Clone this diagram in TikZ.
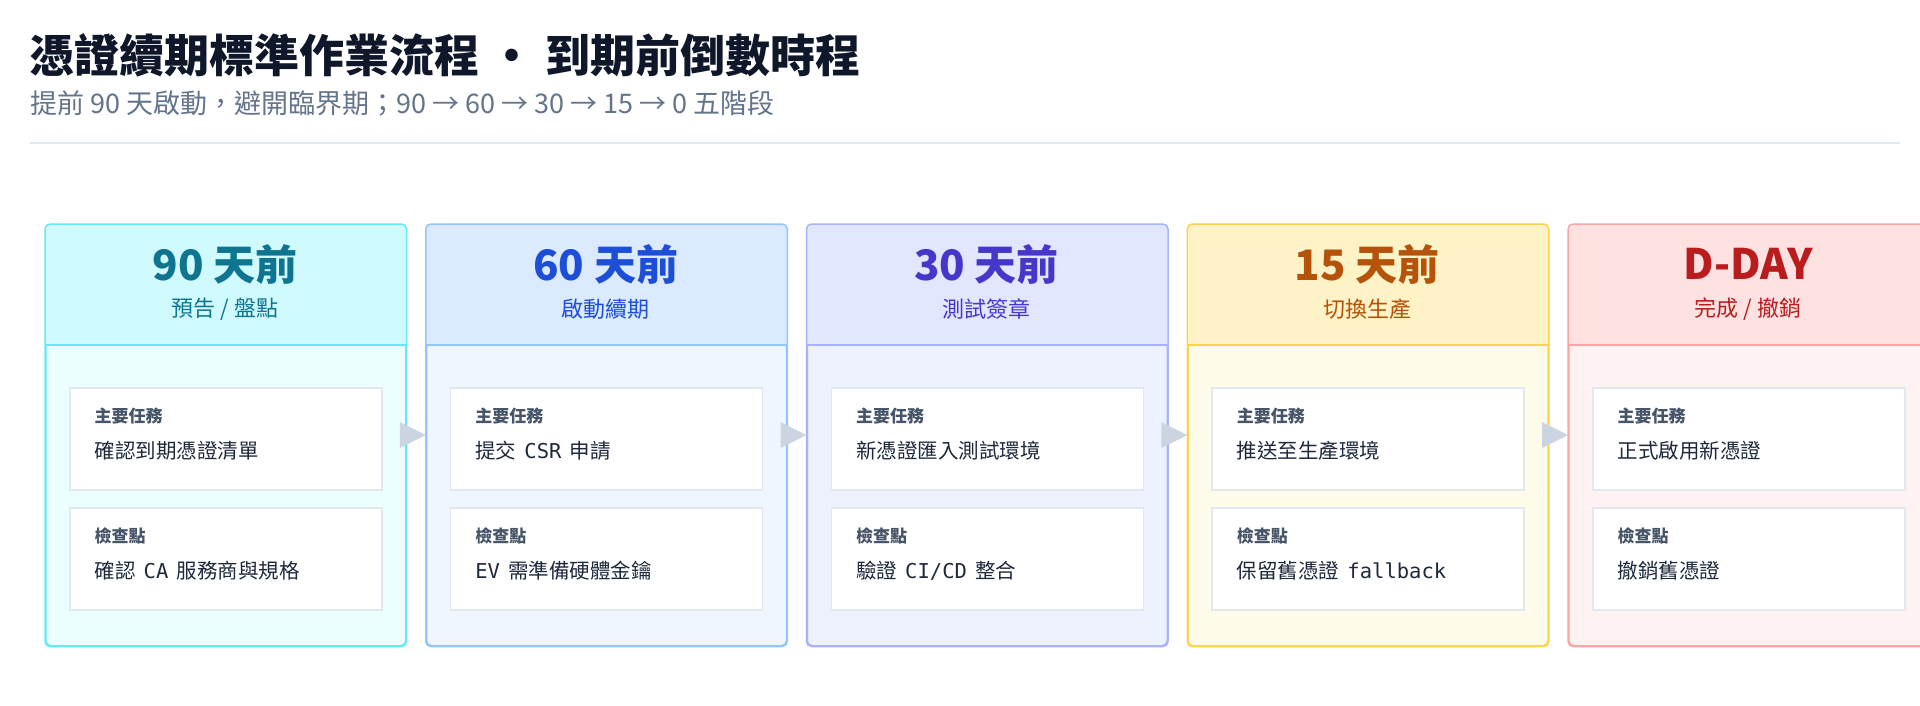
\documentclass[tikz,border=0pt]{standalone}
\usepackage{fontspec}
\setmainfont{Noto Sans CJK TC}
\newfontfamily\monofont{DejaVu Sans Mono}
\usetikzlibrary{positioning}

\definecolor{inkdark}{HTML}{0F172A}
\definecolor{inkgray}{HTML}{64748B}
\definecolor{inklabel}{HTML}{475569}
\definecolor{inkbody}{HTML}{1E293B}
\definecolor{rulegray}{HTML}{E2E8F0}
\definecolor{arrowgray}{HTML}{CBD5E1}
% header fill, border, body fill, text
\definecolor{hdA}{HTML}{CFFAFE}\definecolor{bdA}{HTML}{67E8F9}\definecolor{bgA}{HTML}{ECFEFF}\definecolor{txA}{HTML}{0E7490}
\definecolor{hdB}{HTML}{DBEAFE}\definecolor{bdB}{HTML}{93C5FD}\definecolor{bgB}{HTML}{EFF6FF}\definecolor{txB}{HTML}{1D4ED8}
\definecolor{hdC}{HTML}{E0E7FF}\definecolor{bdC}{HTML}{A5B4FC}\definecolor{bgC}{HTML}{EEF2FF}\definecolor{txC}{HTML}{4338CA}
\definecolor{hdD}{HTML}{FEF3C7}\definecolor{bdD}{HTML}{FCD34D}\definecolor{bgD}{HTML}{FFFBEB}\definecolor{txD}{HTML}{B45309}
\definecolor{hdE}{HTML}{FEE2E2}\definecolor{bdE}{HTML}{FCA5A5}\definecolor{bgE}{HTML}{FEF2F2}\definecolor{txE}{HTML}{B91C1C}

\tikzset{
  card/.style={draw=bd#1,fill=bg#1,line width=1.5pt,rounded corners=5pt,minimum width=360pt,minimum height=421pt,anchor=north west,inner sep=0pt},
  taskbox/.style={draw=rulegray,fill=white,line width=1.5pt,minimum width=312pt,minimum height=102pt,anchor=north west,inner sep=0pt},
  boxlabel/.style={anchor=west,text=inklabel,font=\fontsize{17}{20}\selectfont\bfseries},
  boxtext/.style={anchor=west,text=inkbody,font=\fontsize{20.5}{24}\selectfont},
}
\newcommand\mono[1]{\hspace{0.4em}{\monofont #1}\hspace{0.4em}}

\begin{document}
\begin{tikzpicture}[x=1pt,y=-1pt]
\useasboundingbox (0,0) rectangle (1920,705);
\fill[white] (0,0) rectangle (1920,705);

\node[anchor=west,text=inkdark,font=\fontsize{45}{52}\selectfont\bfseries] (title) at (26,55) {憑證續期標準作業流程 ・ 到期前倒數時程};
\node[anchor=west,text=inkgray,font=\fontsize{27}{32}\selectfont] (subtitle) at (27,103) {提前 90 天啟動，避開臨界期；90 → 60 → 30 → 15 → 0 五階段};
\draw[rulegray,line width=1.2pt] (30,143) -- (1900,143);

\foreach \i/\c/\head/\sub/\task/\check in {
  0/A/90 天前/{預告 / 盤點}/確認到期憑證清單/{確認\mono{CA}服務商與規格},
  1/B/60 天前/啟動續期/{提交\mono{CSR}申請}/{{\monofont EV}\hspace{0.4em}需準備硬體金鑰},
  2/C/30 天前/測試簽章/新憑證匯入測試環境/{驗證\mono{CI/CD}整合},
  3/D/15 天前/切換生產/推送至生產環境/{保留舊憑證\mono{fallback}},
  4/E/D-DAY/{完成 / 撤銷}/正式啟用新憑證/撤銷舊憑證} {
  \pgfmathsetmacro{\xl}{45+380.75*\i}
  \node[card=\c] (c\i) at (\xl,224) {};
  \begin{scope}
    \clip[rounded corners=5pt] (c\i.north west) rectangle (c\i.south east);
    \fill[hd\c] (c\i.north west) rectangle ([yshift=-121pt]c\i.north east);
  \end{scope}
  \draw[bd\c,line width=1.5pt,rounded corners=5pt] (c\i.north west) rectangle (c\i.south east);
  \draw[bd\c,line width=1.5pt] ([yshift=-121pt]c\i.north west) -- ([yshift=-121pt]c\i.north east);
  \node[text=tx\c,font=\fontsize{42}{48}\selectfont\bfseries] (h\i) at (\xl+180,264) {\head};
  \node[text=tx\c,font=\fontsize{22}{26}\selectfont] (s\i) at (\xl+180,309) {\sub};
  \node[taskbox] (t\i) at (\xl+24,387) {};
  \node[boxlabel] (tl\i) at (\xl+46,416) {主要任務};
  \node[boxtext] (tt\i) at (\xl+46,451) {\task};
  \node[taskbox] (k\i) at (\xl+24,507) {};
  \node[boxlabel] (kl\i) at (\xl+46,536) {檢查點};
  \node[boxtext] (kt\i) at (\xl+46,571) {\check};
}

\foreach \i [evaluate=\i as \j using int(\i+1)] in {0,...,3}
  \fill[arrowgray] ([yshift=-211pt]c\j.north west) -- ++(-26,-13) -- ++(0,26) -- cycle;
\end{tikzpicture}
\end{document}
